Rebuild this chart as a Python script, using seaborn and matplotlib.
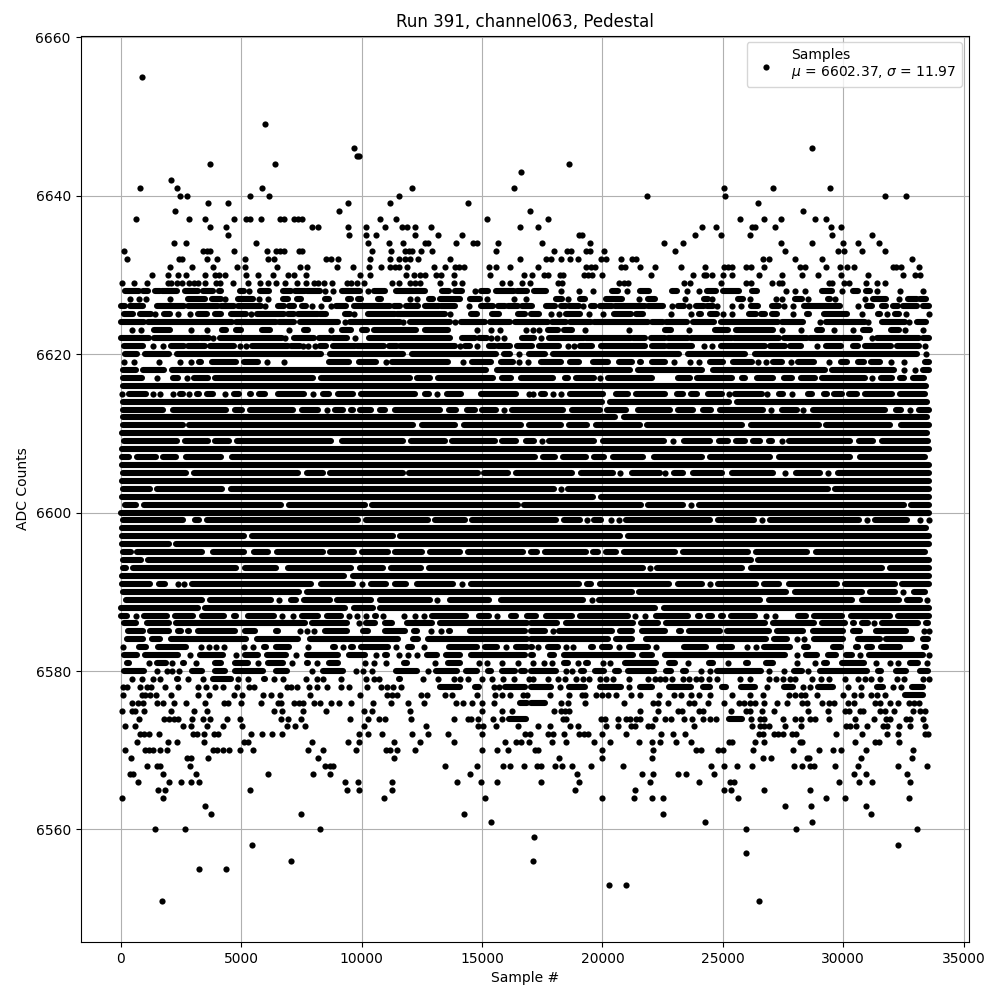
#plot.py
import numpy as np
import pandas as pd
import seaborn as sns
import matplotlib.pyplot as plt

# one list per ADC level
# a number is one sample #, a tuple is a stretch where the samples overlap into a bar
row_6655 = [875]
row_6649 = [5990]
row_6646 = [9667, 28726]
row_6645 = [9800, 9900]
row_6644 = [3710, 6420, 18630]
row_6643 = [16630]
row_6642 = [2084]
row_6641 = [790, 2333, 5875, 12085, 16335, 25070, 27105, 29473]
row_6640 = [2458, 2750, 5375, 6167, 11540, 21870, 25110, 31720, 32590]
row_6639 = [3625, 4459, 9417, 11167, 14418, 26480]
row_6638 = [2250, 9042, 17000, 28350]
row_6637 = [625, 2833, 3500, 4708, 5208, 5375, 5833, 6625, 6790, 7208, 7375, 7542, 10750, 11417, 15209, 17760, 25730, 26730, 27400, 28850, 29270]
row_6636 = [3708, 4375, 7958, 8208, 9417, 10167, 10958, 11667, 11875, 12208, 12875, 16585, 17340, 24155, 24737, 26230, 26357, 27150, 29510, 29930]
row_6635 = [4459, 9459, 10167, 10584, 12209, 13167, 14167, 19045, 19140, 23864, 24945, 26150, 29550, 31180]
row_6634 = [2208, 2708, 5625, 10250, 11125, 11708, 12625, 12750, 13917, 14625, 14792, 15667, 17507, 19500, 22576, 23366, 27400, 28726, 30014, 30637, 31470]
row_6633 = [125, 3417, 3583, 3708, 4708, 6083, 6458, 6625, 6790, 7417, 7542, 10417, 11208, 11792, 11958, 12083, 12458, 12917, 15583, 18000, 18546, 18712, 19335, 19500, 20083, 23033, 27600, 29806, 30055, 30803, 31720]
row_6632 = [250, 2416, 2541, 3583, 4000, 5167, 6125, 6375, 8500, 8708, 9000, 10333, 11167, 11540, 11790, 12000, 12333, 13667, 16584, 17673, 17880, 18300, 18670, 19000, 19958, 20166, 20790, 21246, 21413, 26650, 26900, 28020, 29140, 32840]
row_6631 = [2042, 2958, 3833, 4833, 5167, 6500, 7458, 7750, 8958, 9625, 10292, 10792, 11167, 11375, 11540, 11875, 13000, 13459, 13875, 14042, 14250, 15292, 15583, 16167, 17340, 19335, 19543, 19710, 20790, 20955, 21580, 22200, 23280, 24280, 25070, 25235, 25400, 25980, 26190, 26730, 28190, 28400, 29270, 29850, 30180, 30470, 32050, 32215, 32423, 33130]
row_6630 = [1292, 1958, 2375, 2708, 3500, 3917, 4083, 4333, 5208, 5708, 6333, 6958, 7208, 7708, 9917, 10333, 11833, 12167, 12417, 12625, 13083, 13292, 13833, 15333, 16750, 17090, 17590, 17760, 18250, 18380, 19250, 19420, 19585, 20000, 22036, 23780, 24200, 24320, 24570, 25030, 25400, 26520, 27480, 28270, 28975, 29890, 31050, 32500, 33000, 33210]
row_6629 = [40, 540, 1083, 1958, 2083, 2333, 2542, 2833, 3042, 3208, 3500, 3958, 4125, 4667, 5292, 5792, 6125, 6458, 6833, 7333, 7708, 8042, 8208, 8417, 8750, 9375, 9542, 9792, 10083, 11250, 11542, 12000, 12208, 12417, 13250, 13833, 14167, 15833, 16167, 16667, 17000, 18170, 18340, 20700, 20900, 21050, 23400, 23650, 24945, 25950, 26190, 27060, 27350, 27480, 29430, 29550, 30050, 30260, 30930, 31390, 31720]
row_6628 = [(170, 750), (920, 1125), (1400, 1610), (1700, 2330), (2670, 3210), (3420, 3830), (4080, 4170), (4960, 5125), 5330, (5790, 6170), (6750, 7080), (7250, 7630), (7750, 8290), 8460, 8790, (9170, 9920), 10250, (10500, 10960), (11420, 12630), (13330, 13630), (13880, 14170), 14710, (14960, 15250), (15580, 16330), (16460, 16880), (17175, 17670), 18300, 19045, 19626, (20415, 20665), 21040, (21580, 21950), (22910, 23115), 23530, 24030, (24360, 24700), (25030, 25690), (26230, 26440), 27645, 28020, 28400, (29140, 29550), 29970, (30390, 30600), (30930, 31135), 31385, 32380, 33320]
row_6627 = [375, 750, 1040, 2040, (2790, 3500), (3790, 4170), 4330, (4875, 5500), 5750, 6125, (6750, 6960), (7330, 7500), (8460, 8625), (9420, 9540), (9830, 9960), (10670, 10790), 12000, 12290, (12790, 12960), (13250, 14080), (14500, 14920), 15210, 16330, 16830, (18090, 18340), 18590, (19085, 19290), (20170, 20830), 21540, (21910, 22200), 23450, (24200, 24400), 24570, (25650, 25820), 26150, 27190, 27480, (28020, 28270), 28560, (29390, 29470), 29680, 30890, (31220, 31800), 32340, (32710, 33050), (33210, 33460)]
row_6626 = [(0, 170), (375, 920), (1490, 2630), (2790, 4040), (4170, 4710), (4875, 5830), 6000, (6540, 6790), (7000, 7210), (7540, 7670), 7920, 8330, 8710, (8920, 9370), (9670, 11170), (11330, 11580), (11830, 12360), (12630, 13210), (13290, 13875), 14460, (14960, 15460), (15670, 15960), (16080, 16500), (16670, 17070), (17670, 18050), (18260, 18500), (18630, 19040), 19210, (19540, 19710), (19920, 20415), (20540, 21750), (21910, 22530), 22910, (23160, 23400), 23615, (23900, 24200), (24360, 24610), 24780, 25400, 25775, (26190, 26480), (27060, 27350), 27560, 27935, (28390, 29850), 30600, (30970, 31180), (31630, 31800), (32050, 32260), (32500, 33075), (33300, 33550)]
row_6625 = [(125, 500), (790, 1250), 1420, (1800, 2040), 2375, 2875, (3210, 3580), (3920, 4170), (4580, 5210), 5420, (5670, 6790), (6960, 7170), (7375, 8170), (8290, 8540), (9290, 9500), 9670, (10250, 11375), (11460, 13460), 13670, (14540, 14790), (15420, 15710), (16500, 16790), (17040, 17380), 17880, 18210, (18500, 19090), 19460, 20040, (20500, 21200), (21410, 21700), 22830, 23660, (24000, 24110), (24450, 24740), 25030, 25400, (26070, 26360), (26600, 26770), (27060, 27270), 27935, (28480, 28600), (29220, 29850), (29930, 30180), 30800, (31430, 31550), 31840, (32170, 32340), 32630, 33550]
row_6624 = [(0, 960), (1125, 4625), (4790, 6460), (6580, 7210), (7420, 9010), 9290, (9500, 11580), 11710, (12000, 13670), 13880, (14125, 15125), (15330, 16170), (16375, 17730), (17920, 18500), (18670, 19540), (19670, 21880), (22070, 22530), (22650, 23530), (23780, 24650), (24945, 27310), (27480, 28350), 29020, (29270, 29850), (29930, 30890), 31015, (31630, 32550), 32750, (33080, 33460)]
row_6623 = [460, 830, (1375, 2040), 2900, 3580, (4210, 4375), (4790, 5000), (5875, 6210), 7000, (7625, 7790), 8710, (9170, 9540), (10000, 10210), (10500, 12250), (12625, 13600), 14790, 15375, 15750, 16830, 17130, 17380, (17760, 18170), (18420, 18730), 19290, 21120, (22580, 22830), 23615, (24695, 25235), (25530, 27100), 27440, 28230, (28930, 29140), 29640, 30390, (30840, 31135), (32000, 32300), 32550, 33300]
row_6622 = [(0, 1170), (1375, 3250), (3330, 3670), 3830, (4110, 6680), 6830, (7210, 8040), (8210, 8670), (8790, 9375), 9710, (10290, 13670), (14170, 14710), (14875, 15210), 15375, 15625, 15920, (16670, 17175), 17465, (17800, 19225), (19335, 21200), (21290, 21790), (22000, 22580), (22740, 23570), (23700, 25400), (25480, 27350), (27560, 28500), (28640, 29850), (29970, 30680), 31180, (31385, 33130), (33300, 33550)]
row_6621 = [(125, 920), 1330, 1750, (2080, 2630), (2790, 3500), (3710, 4710), 4960, 5210, (5460, 6930), (7080, 7420), 7580, 7790, 8080, (8290, 8540), (8790, 9710), (9790, 10920), (11125, 11460), (11580, 13880), 14080, (14290, 14500), 14790, (15290, 15540), (15670, 16170), (16460, 17070), (17380, 18210), 18590, 18800, (19085, 19585), (19960, 21750), (22040, 22580), (22740, 23740), 24240, 24570, (24945, 26770), (26980, 27600), (27810, 28230), 28930, (29270, 29890), (30390, 30600), (30890, 31970), (32220, 33170), 33380]
row_6620 = [(185, 690), (1000, 2000), (2330, 8320), (8700, 11720), (12100, 15600), (15910, 16150), 16550, (16950, 17600), (17930, 23170), (23540, 25930), (26320, 33070), 33450]
row_6619 = [146, 534, 1574, 2476, 2892, (3225, 3320), (3780, 4780), (5125, 5680), 6080, 6775, (8630, 9490), (9880, 10600), 11000, (11270, 13580), 14190, (14600, 15390), (15780, 16290), 16550, 16900, (17440, 18300), (18660, 19020), (19590, 20240), (20700, 21210), (21570, 21600), (22080, 22620), 22970, 23620, 24000, (24480, 25010), (25440, 26230), 26470, 26810, (27080, 27450), 27830, (28120, 28770), 29400, (29890, 30150), (30610, 30850), (31170, 31540), 31990, 32540, (33390, 33550)]
row_6618 = [(100, 620), (910, 1800), (2120, 15180), (15640, 21130), (21460, 24120), (24580, 29250), (29530, 32100), 32540, 32970, (33320, 33550)]
row_6617 = [(80, 890), 1500, (2160, 2380), 2750, (3020, 3600), (3890, 7970), (8310, 11990), (12310, 12820), (13170, 15460), (15850, 16220), (16610, 17950), (18430, 18570), (18890, 19650), 19900, (20240, 22070), (23150, 23640), (23950, 25370), (25780, 25920), (26420, 27100), (27530, 27870), (28230, 28810), (29110, 30920), 31180, (31580, 32030), (32350, 32510), (32900, 33340)]
row_6616 = [(80, 33460)]
row_6615 = [50, (350, 1030), 1330, 1640, 2160, (2460, 2600), 2820, (3180, 3250), (3570, 3810), 4310, (4710, 4920), (5370, 5400), (5720, 5980), (6510, 7620), 7970, (8400, 8660), (9010, 9630), (9980, 12200), (12650, 12780), 13110, (13560, 14140), (14940, 16430), 16950, 17100, (17460, 17630), 17950, 18280, (18660, 20030), (20560, 21070), (21390, 22600), (23080, 23360), (23700, 23950), (24370, 24980), 25240, (25510, 26620), 26850, (27320, 27520), 27890, (28530, 28700), (29200, 29320), (29640, 29950), (30260, 30570), (30890, 32030), (32350, 33410)]
row_6614 = [(80, 19990), (20320, 25260), (25590, 33500)]
row_6613 = [(80, 1730), (2160, 4360), (4750, 5050), (5370, 7130), (7520, 8170), 8560, (8910, 9220), (9560, 9630), (9920, 10390), (10780, 10950), (11400, 13240), (13620, 13930), (14380, 14690), (15000, 15590), 15930, (16260, 18370), (18750, 19890), (20210, 21000), (21490, 22800), (23120, 23770), (24160, 24510), (24900, 26690), 27020, (27450, 28070), 28340, (28740, 31720), (32210, 32410), 32790, (33140, 33550)]
row_6612 = [(100, 20540), (20880, 33500)]
row_6611 = [(100, 2560), (2850, 12130), (12520, 13860), (14250, 16640), (16950, 18300), (18620, 19380), (19720, 21560), (21870, 25790), (26170, 28980), (29290, 31960), (32410, 33550)]
row_6610 = [(30, 33500)]
row_6609 = [(130, 2350), (2670, 3600), (3920, 4500), (4820, 8730), (9190, 11710), (12030, 13450), (13770, 15520), (15850, 16430), (16820, 17150), 17480, (17780, 19650), (20040, 22570), 22940, (23370, 24470), (24860, 25230), (25550, 25920), (26240, 26550), (26910, 27060), 27460, (27770, 30290), (30640, 31260), (31610, 33530)]
row_6608 = [(30, 33550)]
row_6607 = [(50, 340), (690, 1450), (1770, 2280), (2710, 4150), (4610, 17190), (17550, 18020), (18380, 19300), (19660, 20070), (20420, 21690), (22150, 24150), (24480, 26960), (27350, 30290), (30680, 33410)]
row_6606 = [(30, 33550)]
row_6605 = [(80, 2700), (3020, 7340), (7730, 8380), (8700, 11710), (11960, 14830), (15080, 16080), (16400, 18740), (19100, 20450), 20750, (21250, 22390), 22620, (22960, 23360), (23750, 24950), (25370, 27100), 27570, (28050, 29050), 29380, (29780, 33550)]
row_6604 = [(40, 33550)]
row_6603 = [(80, 1210), (1520, 4220), (4570, 18000), 18300, (18590, 29370), (29680, 33550)]
row_6602 = [(50, 19610), (19950, 33550)]
row_6601 = [(170, 620), (970, 6650), (6970, 10120), (10440, 16500), (16750, 21620), (21900, 23360), 23700, (24020, 32510), (32830, 33550)]
row_6600 = [(20, 33550)]
row_6599 = [(100, 2600), (3060, 3250), (3570, 9840), (10200, 12750), (13040, 14280), (14600, 18090), (18410, 19060), 19340, (19660, 19930), 20360, 20710, (20970, 24470), (24810, 26310), 26630, (26980, 30640), 30970, (31310, 32650), 33190, 33550]
row_6598 = [(30, 33450)]
row_6597 = [(50, 5130), (5440, 11300), (11610, 20720), (21060, 33550)]
row_6596 = [(50, 2000), (2300, 33550)]
row_6595 = [(80, 410), (690, 3360), (3820, 5130), (5510, 6120), (6480, 8380), (8700, 9680), (10020, 11090), (11380, 12500), (12860, 14070), (14420, 16700), (17030, 17300), (17600, 19300), (19590, 19820), (20140, 20580), (20900, 23010), (23330, 26060), (26380, 28490), (28880, 33410)]
row_6594 = [(80, 830), (1140, 26170), (26480, 33550)]
row_6593 = [(80, 200), (520, 4780), (5140, 6440), (6930, 9560), (9950, 10880), (11230, 12450), (12790, 21700), 21960, (22260, 25790), (26170, 31610), (31930, 33550)]
row_6592 = [(50, 9280), (9640, 33550)]
row_6591 = [(50, 1210), (1600, 1820), 2380, 2620, (2950, 7900), (8310, 9630), 10030, (10370, 11020), (11400, 11850), (12280, 13790), 14150, (14530, 19020), (19350, 19540), (19890, 22760), (23120, 24120), 24450, (24790, 26370), (26700, 27340), (27730, 29740), (30080, 32140), (32450, 33550)]
row_6590 = [(100, 7410), (7730, 21210), (21530, 27620), (27980, 30780), (31100, 32170), 32470, (32940, 33410)]
row_6589 = [(210, 3390), (3710, 6240), 6570, (7070, 7280), (7590, 8670), (8980, 10400), (10780, 12820), 13110, (13690, 15310), (15780, 19200), 19570, (19860, 26550), (26900, 30360), (30780, 32330), (32670, 33210), 33500]
row_6588 = [(0, 3210), (3500, 9310), (9670, 10460), (10780, 22180), (22540, 33550)]
row_6587 = [(0, 240), 630, (970, 1900), (2230, 3000), (3370, 4290), (4680, 4780), (5300, 6370), 6700, 7150, (7520, 8170), (8560, 9150), 9480, 9820, 10170, (10570, 10600), 10890, 11740, 12210, 12600, (12930, 14350), (14870, 15310), 15620, (16190, 16430), (16880, 17260), (17640, 18740), (19070, 21070), 21360, 21780, (22220, 23570), (23980, 24050), (24370, 24540), (24930, 25020), (25340, 26340), 26810, 27160, (28120, 28450), (28780, 29950), (30310, 31960), (32280, 33550)]
row_6586 = [(125, 625), (1080, 1990), (2290, 7640), (7920, 9380), 9880, (10180, 10560), (10950, 11250), (11890, 12920), (13240, 16880), (17040, 18130), (18480, 21270), (21620, 22290), (22650, 26770), (27100, 28790), (29140, 30070), (30390, 30460), (30800, 31040), 31300, (31630, 33120), (33440, 33530)]
row_6585 = [(290, 900), (1190, 2010), (2360, 2500), (2780, 2850), (3190, 4720), (5150, 5560), (6430, 6530), (7060, 7080), 7420, 7710, 8040, (8470, 9380), (10040, 10280), (10950, 11810), (12170, 12290), 12900, 13290, (13610, 13680), (14490, 16800), (17040, 17600), 17940, (18200, 20400), (20730, 21230), (21660, 22620), (23190, 23250), (23600, 24870), (25190, 26910), (27270, 28340), (28730, 30000), (30390, 30690), (31350, 32630), 33350, 33550]
row_6584 = [(250, 900), (1290, 1640), (2080, 5210), (5640, 7360), (7860, 11530), (12130, 12360), (12750, 16880), (17040, 20240), (20550, 21230), (21800, 26810), (27130, 27650), 28100, 28390, (28780, 30000), (30600, 31520), (31770, 32840), (33300, 33530)]
row_6583 = [80, (740, 1040), (1530, 2710), 3320, 3650, 3940, 4290, 5100, 5500, (5950, 6040), (6430, 6970), 7760, (8380, 8400), (8790, 8890), 9220, (9560, 9650), (9970, 11110), 11420, (11920, 12080), 12580, (13610, 14790), (15110, 15630), 16000, (16430, 16880), (17040, 17080), 17310, (17720, 18160), 18490, 18770, (19520, 19610), (20000, 20300), 20710, (21110, 21900), 22230, (22630, 22650), (23390, 24320), (24850, 25390), 26020, 26360, (26720, 27790), (28380, 28550), (29560, 29930), (30530, 30620), (31010, 31180), (31590, 32350), (33370, 33460)]
row_6582 = [(125, 690), (1010, 2360), 2860, (3300, 4240), 4800, (5140, 5700), (6080, 6870), 7280, (7750, 9030), (9490, 10140), 10610, (10950, 11040), 11570, 11930, 12280, (12720, 13130), (13510, 14100), (14560, 16800), (17040, 17100), (17830, 18000), (18410, 21290), (21640, 22040), (22590, 27580), 28070, (28450, 28930), (29350, 29720), (30110, 30350), 30720, (31080, 33320), 33550]
row_6581 = [(250, 350), (740, 760), 1170, (1500, 1880), 2140, (2580, 2610), 3110, (3930, 4170), (4720, 5280), 5710, (6110, 6740), 7100, (7720, 7780), 8140, (8630, 9000), 10130, 10500, 11030, (11780, 11880), 13040, (13580, 14100), 14880, 15200, 15850, 16510, 17100, 17560, 17890, (18410, 18570), 18975, (19310, 19400), 20010, 20330, (20930, 22240), (22770, 23000), 23550, (24430, 24600), 25210, (25960, 26050), (26790, 27090), 28070, 28810, (29210, 29310), (29970, 30870), 31380, 31930, 32270, (32780, 33110), 33490]
row_6580 = [(125, 970), 1510, 1900, 2140, 2420, (2960, 3360), (3890, 4310), (4760, 5900), (6430, 6920), (7470, 7500), 7930, (8380, 9210), 9780, 10060, 10430, (11430, 12290), 12760, (13100, 13960), (14350, 14790), (15250, 15380), (15810, 16390), (16640, 16800), (17040, 18090), 18500, 18740, (19100, 19240), (19680, 20070), (20510, 20680), (21070, 22150), (22630, 22860), (23330, 23490), 24100, 24450, (24780, 26580), 26940, 27560, (27960, 28270), 28560, (29040, 30970), (31430, 31590), (32190, 32630), (33200, 33530)]
row_6579 = [470, 890, 1330, 1630, (2330, 2390), 2790, 3420, (3830, 4560), 4880, 5260, (5950, 5980), 6350, 6750, 7680, 8140, 8390, 9130, 10200, 10500, 10710, (11570, 11600), 12540, 13180, 13830, 14090, 14430, 15000, 15420, 15890, 16310, 16960, 17100, 17760, 18160, 18460, 18890, 19200, 19460, 19920, 20150, 20420, 21120, 21910, 22200, 22410, 22620, 22910, 23340, 23610, 23890, 24110, 24430, 24740, 25720, 26120, 26930, 27220, 27510, 27800, 28010, 28710, 29060, 29400, 30060, 30600, 30890, 31170, 31540, 32220, 32510, 33300, 33550]
row_6578 = [80, 260, 790, 1080, 1250, 1830, 2380, 3210, 3540, 3890, 4250, 4830, 5330, 5540, 6880, 7080, 7330, 7830, 8130, 8570, 9150, 9460, 10210, 10790, 11070, 11290, 11650, (13240, 14100), (14700, 14860), 15500, 15700, (15950, 16800), (17040, 17870), 18250, (18630, 19290), (19900, 20760), 21120, (21570, 22040), (22770, 23670), (24160, 24460), (24950, 25150), (25750, 26330), 26840, (27550, 27920), 28340, 28640, (28960, 29580), 30210, 30750, (31420, 31660), 32060, 32410, (32880, 33320)]
row_6577 = [80, 880, 1000, 1210, 1440, 2100, 3210, 3670, 4710, 5040, 5920, 6250, 6630, 7860, 9950, 11060, 11260, 11460, 12460, 12710, 13460, 13750, 14790, 15520, 15850, 16170, 16710, 16880, 17840, 18620, 19170, 19290, 19750, 20000, 20250, 20580, 21200, 21580, 22350, 22990, 23280, 23700, 24030, 24450, 25400, 26150, 26660, 27730, 27980, 28230, 28400, 28930, 30010, 30470, 30760, 31140, 31390, 31730, (32560, 33320)]
row_6576 = [470, 710, 920, 1490, 1740, 2210, 2710, 3500, 4290, 4430, 5000, 5830, 6540, 6670, 7170, 7380, 7580, 8040, 8290, 8710, 9040, 9540, 10460, 11220, 11940, 12570, 13920, 14210, 14580, 15000, 15500, (16580, 16880), (17050, 17600), 18300, 18590, 19290, 20910, 22120, 22330, 22740, 23610, 23820, 24400, 25070, 25690, 25900, 26150, 26320, 26730, 27270, 27650, 28270, 28480, 29140, 29430, 29640, 30220, 30470, 31340, 31550, 31960, 32270, 32750, 32960, 33170]
row_6575 = [40, 460, 580, 960, 2070, 3040, 3580, 6380, 6710, 7580, 8500, 10080, 10420, 12000, 15000, 15830, 16250, 18000, 18300, 18460, 18630, 21580, 22290, 23130, 23300, 24030, 24160, 25360, 25980, 26150, 26610, 27110, 28560, 29390, 30060, 30260, 30680, 30840, 31550, 31720, 32130, 32920, 33210, 33380]
row_6574 = [750, 1790, 2000, 2210, 2380, 2960, 3420, 3710, 4420, 4960, 6670, 6960, 7500, 9500, 10250, 10710, 10960, 12040, 13830, 14430, 14540, 14830, 15460, 15830, (16130, 16840), 18380, 18500, 19960, 20120, 20660, 21000, 21160, 21410, 21580, 22200, 22620, 22870, 23400, 23740, 24160, 24490, 24700, (25260, 25780), 26190, 26560, 26730, 27520, 28020, 28230, 28640, 28850, 29430, 30510, 31300, 31770, 31940, 32600, 32770, 33300]
row_6573 = [170, 580, 2580, 2920, 3580, 4250, 5040, 6880, 7250, 7630, 10080, 12670, 14830, 15040, 15580, 16510, 17340, 17840, 18670, 19000, 20170, 20660, 21200, 21360, 21910, 22080, 23820, 26230, 26560, 26730, 26900, 27600, 28230, 30100, 30300, 30550, 30970, 31670, 31840, 32340, 32770, 33380]
row_6572 = [790, 960, 1170, 1580, 3000, 3180, 3460, 3880, 4040, 5420, 5860, 6290, 6710, 9880, 10250, 10830, 12080, 12750, 13580, 15000, 16790, 17000, 17760, 17960, 18420, 19040, 19250, 19420, 20000, 20960, 22450, 22950, 23450, 26520, 26690, 27110, 27310, 27520, 27890, 28060, 29720, 30800, 31840, 32260, 33380, 33520]
row_6571 = [670, 1960, 2330, 3460, 5120, 5290, 7920, 9420, 9880, 11330, 12420, 13830, 15950, 16430, 16630, 16960, 17920, 18500, 19670, 20330, 21500, 22040, 22410, 23070, 23700, 25240, 25400, 26320, 26730, 28190, 28310, 30510, 31340, 31470, 32300]
row_6570 = [170, 1000, 1170, 1330, 1630, 1920, 3830, 4000, 4250, 4500, 4960, 5500, 7790, 8380, 9750, 11000, 11170, 11460, 12210, 15000, 15640, 16080, 17180, 17340, 20000, 22120, 23900, 24110, 24810, 24990, 26270, 27920, 29010, 29560, 29890, 30930, 32920]
row_6569 = [420, 2750, 2920, 3620, 8170, 11330, 18210, 20000, 22080, 26650, 27020, 28480, 28600, 30760, 32840]
row_6568 = [1080, 1500, 1630, 2870, 8460, 8670, 8830, 13460, 14790, 15880, 16170, 16750, 17300, 17470, 18050, 18340, 18750, 19540, 20870, 24530, 25070, 25610, 26230, 27940, 28310, 28640, 28770, 29680, 30600, 32260, 33500]
row_6567 = [370, 500, 1750, 3130, 6130, 8000, 8670, 14500, 18960, 21660, 22120, 23120, 23490, 24650, 30430, 30930, 32670]
row_6566 = [710, 2000, 2500, 2920, 3250, 9290, 9830, 11250, 13960, 14960, 15630, 17470, 19040, 21990, 24030, 25290, 25460, 29810, 30640, 31180, 32760]
row_6565 = [1540, 1830, 5380, 9380, 9880, 11250, 18880, 21370, 25070, 25360, 26730, 28640]
row_6564 = [40, 1750, 10920, 15130, 20000, 21330, 22040, 22530, 25650, 29270, 30060, 32720]
row_6563 = [3500, 27600, 28680, 30930]
row_6562 = [3750, 7500, 14250, 22530, 31140]
row_6561 = [15380, 24280, 28720]
row_6560 = [1420, 2670, 8250, 25980, 28060, 33050]
row_6559 = [17170]
row_6558 = [5460, 32260]
row_6557 = [25960]
row_6556 = [7080, 17100]
row_6555 = [3250, 4380]
row_6553 = [20290, 20960]
row_6551 = [1710, 26520]

x_ticks = [0, 5000, 10000, 15000, 20000, 25000, 30000, 35000]
y_ticks = [6560, 6580, 6600, 6620, 6640, 6660]

dots = []
bars = []
for name, row in list(globals().items()):
    if not name.startswith("row_"):
        continue
    level = int(name[4:])
    for item in row:
        if isinstance(item, tuple):
            bars.append((len(bars), item[0], level))
            bars.append((bars[-1][0], item[1], level))
        else:
            dots.append((item, level))

dots = pd.DataFrame(dots, columns=["sample", "adc"])
bars = pd.DataFrame(bars, columns=["run", "sample", "adc"])

fig, ax = plt.subplots(figsize=(10, 10))
fig.subplots_adjust(left=0.0805, right=0.969, top=0.9645, bottom=0.058)

sns.lineplot(data=bars, x="sample", y="adc", units="run", estimator=None, color="k",
             lw=4.4, solid_capstyle="round", legend=False, zorder=2, ax=ax)
sns.scatterplot(data=dots, x="sample", y="adc", color="k", s=20, linewidth=0, zorder=2,
                label="Samples\n$\\mu$ = 6602.37, $\\sigma$ = 11.97", ax=ax)

ax.set_xlim(-1677, 35227)
ax.set_ylim(6545.8, 6660.2)
ax.set_xticks(x_ticks)
ax.set_yticks(y_ticks)
ax.ticklabel_format(useOffset=False, style="plain")
ax.grid(True)
ax.set_xlabel("Sample #")
ax.set_ylabel("ADC Counts")
ax.set_title("Run 391, channel063, Pedestal")
ax.legend(loc="upper right")

plt.savefig("out.png", dpi=100)
